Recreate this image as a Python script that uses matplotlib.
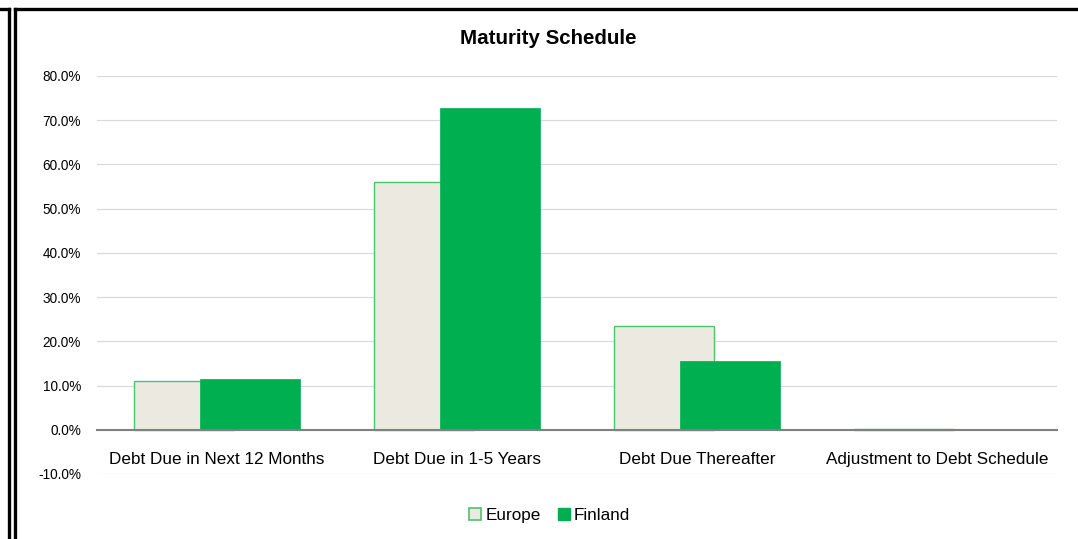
import numpy as np
import matplotlib
matplotlib.use("Agg")
import matplotlib.pyplot as plt
from matplotlib.patches import Patch
from matplotlib.lines import Line2D
from matplotlib.ticker import FuncFormatter

plt.rcParams['font.family'] = ['Liberation Sans', 'DejaVu Sans']

# data (share of total debt, %)
categories = ['Debt Due in Next 12 Months', 'Debt Due in 1-5 Years',
              'Debt Due Thereafter', 'Adjustment to Debt Schedule']
europe = [11.1, 56.0, 23.4, 0.1]
finland = [11.5, 72.8, 15.6, 0.0]

fig = plt.figure(figsize=(10.78, 5.39), dpi=100)
ax = fig.add_axes([0.09, 0.1206, 0.8905, 0.7384])

x = np.arange(len(categories))
w = 0.4167
off = 0.1375
ax.bar(x - off, europe, w, color='#ECE9E0', edgecolor='#4CC46E', linewidth=1.0, zorder=2)
ax.bar(x + off, finland, w, color='#00AF50', edgecolor='#00AF50', linewidth=0.5, zorder=3)

ax.set_xlim(-0.5, 3.5)
ax.set_ylim(-10, 80)
ax.set_yticks(np.arange(-10, 81, 10))
ax.yaxis.set_major_formatter(FuncFormatter(lambda v, p: f'{v:.1f}%'))
ax.grid(axis='y', color='#D9D9D9', linewidth=0.8, zorder=0)
ax.set_axisbelow(True)

for s in ['top', 'right', 'left']:
    ax.spines[s].set_visible(False)
ax.spines['bottom'].set_position(('data', 0))
ax.spines['bottom'].set_color('#808080')
ax.spines['bottom'].set_linewidth(1.5)
ax.spines['bottom'].set_zorder(4)

ax.set_xticks(x)
ax.set_xticklabels(categories, fontsize=12.3)
ax.tick_params(axis='x', length=0, pad=16)
ax.tick_params(axis='y', length=0, labelsize=9.8, pad=11.5)

fig.text(0.509, 0.928, 'Maturity Schedule', ha='center', va='center',
         fontsize=14.8, fontweight='bold')

handles = [Patch(facecolor='#ECE9E0', edgecolor='#4CC46E', linewidth=1.2, label='Europe'),
           Patch(facecolor='#00AF50', edgecolor='#00AF50', label='Finland')]
fig.legend(handles=handles, loc='center', bbox_to_anchor=(0.51, 0.043), ncol=2,
           frameon=False, fontsize=12.3, handlelength=0.7, handleheight=0.7,
           handletextpad=0.25, columnspacing=1.0)

# outer frame lines
lw = 2.4
fig.add_artist(Line2D([8.5/1078, 8.5/1078], [0, 1 - 8.5/539], color='black', lw=lw))
fig.add_artist(Line2D([0, 8.5/1078], [1 - 8.5/539, 1 - 8.5/539], color='black', lw=lw))
fig.add_artist(Line2D([14.5/1078, 14.5/1078], [0, 1 - 8.5/539], color='black', lw=lw))
fig.add_artist(Line2D([14.5/1078, 1], [1 - 8.5/539, 1 - 8.5/539], color='black', lw=lw))

fig.savefig('out.png', dpi=100)
